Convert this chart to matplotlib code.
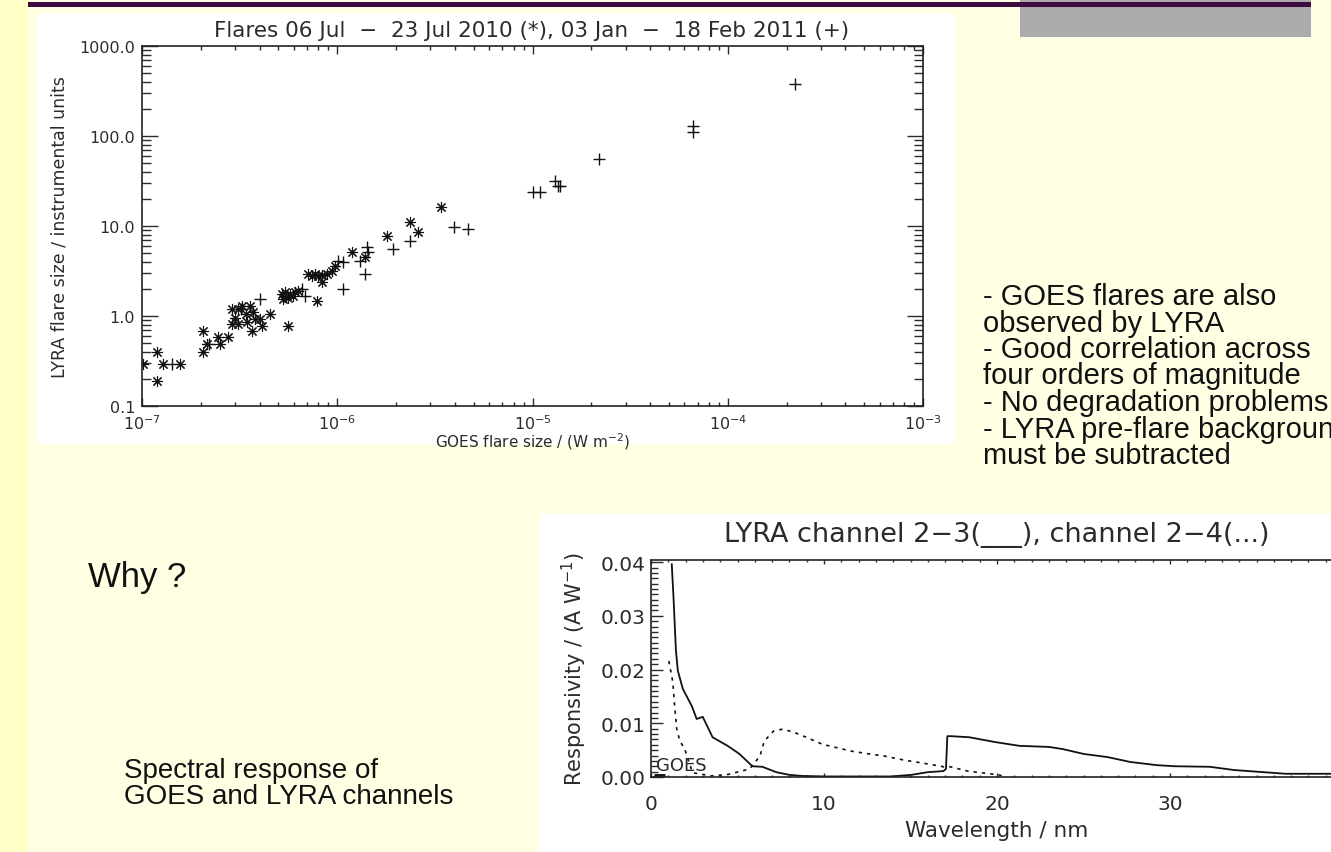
import matplotlib
matplotlib.use("Agg")
import matplotlib.pyplot as plt
from matplotlib.patches import Rectangle
from matplotlib.ticker import FixedLocator, LogLocator, MultipleLocator, NullFormatter

W, H = 1331, 853

# --- top panel: flare sizes, GOES (W m^-2) vs LYRA (instrumental units) ---
goes_2010 = [1.01e-7, 1.19e-7, 1.19e-7, 1.28e-7, 1.57e-7, 2.05e-7, 2.05e-7, 2.15e-7,
             2.45e-7, 2.51e-7, 2.76e-7, 2.89e-7, 2.89e-7, 3.1e-7, 3.1e-7, 3.26e-7,
             3.4e-7, 3.58e-7, 3.66e-7, 3.7e-7, 3.8e-7, 4.12e-7, 4.53e-7, 5.22e-7,
             5.3e-7, 5.41e-7, 5.6e-7, 5.6e-7, 5.74e-7, 5.94e-7, 6.09e-7, 7.1e-7,
             7.71e-7, 7.89e-7, 8.37e-7, 8.37e-7, 8.89e-7, 9.42e-7, 9.77e-7, 1.19e-6,
             1.39e-6, 1.8e-6, 2.37e-6, 2.6e-6, 3.38e-6, 3.0e-7, 3.45e-7, 4.0e-7,
             6.3e-7, 7.4e-7, 8.0e-7]
lyra_2010 = [0.29, 0.40, 0.19, 0.29, 0.29, 0.68, 0.40, 0.49,
             0.58, 0.49, 0.58, 1.2, 0.81, 0.81, 1.2, 1.29,
             1.05, 1.29, 0.68, 1.1, 0.93, 0.77, 1.05, 1.76,
             1.55, 1.85, 0.77, 1.6, 1.76, 1.67, 1.85, 2.93,
             2.93, 1.47, 2.86, 2.39, 2.93, 3.16, 3.59, 5.14,
             4.52, 7.74, 11.1, 8.58, 16.3, 0.95, 0.85, 0.92,
             1.9, 2.8, 2.75]
goes_2011 = [1.43e-7, 2.2e-7, 4.03e-7, 3.2e-7, 6.62e-7, 6.85e-7, 1.01e-6, 1.07e-6,
             1.07e-6, 1.31e-6, 1.42e-6, 1.44e-6, 1.39e-6, 1.94e-6, 2.37e-6, 3.94e-6,
             4.7e-6, 1.0e-5, 1.09e-5, 1.31e-5, 1.35e-5, 1.38e-5, 2.2e-5, 6.6e-5,
             6.6e-5, 2.2e-4]
lyra_2011 = [0.29, 0.49, 1.55, 1.2, 2.0, 1.67, 4.08, 3.98,
             2.0, 4.08, 5.84, 5.14, 2.93, 5.55, 6.81, 9.75,
             9.26, 24.0, 24.0, 31.6, 28.0, 28.0, 55.0, 129.0,
             110.0, 380.0]

top_xticks = [1e-7, 1e-6, 1e-5, 1e-4, 1e-3]
top_xlabels = [r"$10^{-7}$", r"$10^{-6}$", r"$10^{-5}$", r"$10^{-4}$", r"$10^{-3}$"]
top_yticks = [0.1, 1, 10, 100, 1000]
top_ylabels = ["0.1", "1.0", "10.0", "100.0", "1000.0"]

# --- bottom panel: spectral responsivity ---
wl_ch23 = [1.2, 1.3, 1.44, 1.55, 1.84, 2.36, 2.64, 2.99, 3.56, 4.43, 5.11, 5.86, 6.44,
           7.24, 7.99, 8.74, 10.1, 12.0, 13.85, 15.06, 16.0, 16.9, 17.05, 17.13, 17.36,
           18.4, 19.9, 21.3, 23.0, 23.8, 25.0, 26.4, 27.7, 29.25, 30.3, 32.3, 33.7,
           35.4, 36.7, 39.0, 40.0]
resp_ch23 = [0.0396, 0.0335, 0.0236, 0.0198, 0.0164, 0.0132, 0.0108, 0.0112, 0.0074,
             0.0058, 0.0043, 0.0020, 0.0019, 0.0009, 0.0004, 0.0002, 0.0001, 0.0001,
             0.0001, 0.0004, 0.0009, 0.0011, 0.0015, 0.0076, 0.0076, 0.0074, 0.0065,
             0.0058, 0.0056, 0.0052, 0.0043, 0.0037, 0.0028, 0.0022, 0.0020, 0.0019,
             0.0013, 0.0009, 0.0006, 0.0006, 0.0006]
wl_ch24 = [1.03, 1.26, 1.38, 1.49, 1.67, 1.95, 2.4, 3.5, 4.5, 5.7, 6.3, 6.55, 7.1, 7.6,
           8.2, 8.97, 9.9, 11.6, 12.8, 13.5, 14.7, 15.5, 16.6, 16.9, 17.1, 17.3, 18.3,
           20.1, 20.5]
resp_ch24 = [0.0216, 0.0177, 0.0127, 0.0089, 0.0067, 0.0052, 0.0008, 0.0002, 0.0005,
             0.0015, 0.0039, 0.0067, 0.0086, 0.0089, 0.0084, 0.0074, 0.0061, 0.0048,
             0.0042, 0.0039, 0.0031, 0.0027, 0.0021, 0.0019, 0.0019, 0.0019, 0.0011,
             0.0004, 0.0]
wl_goes = [0.2, 0.8]
resp_goes = [0.0002, 0.0002]

bot_xticks = [0, 10, 20, 30, 40]
bot_xlabels = ["0", "10", "20", "30", ""]  # 40 falls past the slide edge
bot_yticks = [0.0, 0.01, 0.02, 0.03, 0.04]
bot_ylabels = ["0.00", "0.01", "0.02", "0.03", "0.04"]

notes = ["- GOES flares are also", "observed by LYRA", "- Good correlation across",
         "four orders of magnitude", "- No degradation problems",
         "- LYRA pre-flare background", "must be subtracted"]

IDL_INK = "#2b2b2b"


def rect(x0, y0, x1, y1):
    # pixel box (top-left origin) -> figure fraction
    return [x0 / W, 1 - y1 / H, (x1 - x0) / W, (y1 - y0) / H]


def box(x0, y0, x1, y1, color):
    r = rect(x0, y0, x1, y1)
    fig.add_artist(Rectangle((r[0], r[1]), r[2], r[3], transform=fig.transFigure,
                             facecolor=color, edgecolor="none", zorder=-5))


fig = plt.figure(figsize=(W / 100, H / 100), dpi=100)
fig.patch.set_facecolor("#ffffe3")

# slide decoration
box(0, 0, 28, H, "#ffffc6")
box(1020, 0, 1311, 38, "#ababab")
box(28, 3, 1311, 8, "#3d0b3f")
box(38, 15, 955, 445, "white")
box(540, 515, W, H, "white")

# ---- top scatter ----
ax1 = fig.add_axes(rect(142, 47, 923, 407))
ax1.set_xscale("log")
ax1.set_yscale("log")
ax1.plot(goes_2010, lyra_2010, linestyle="none", marker=(8, 2, 0), ms=8, mew=0.8,
         color="#111111")
ax1.plot(goes_2011, lyra_2011, linestyle="none", marker="+", ms=8, mew=1.0,
         color="#111111")
ax1.set_xlim(1e-7, 1e-3)
ax1.set_ylim(0.1, 1000)
ax1.xaxis.set_major_locator(FixedLocator(top_xticks))
ax1.set_xticklabels(top_xlabels)
ax1.yaxis.set_major_locator(FixedLocator(top_yticks))
ax1.set_yticklabels(top_ylabels)
for axis in (ax1.xaxis, ax1.yaxis):
    axis.set_minor_locator(LogLocator(base=10, subs=range(2, 10)))
    axis.set_minor_formatter(NullFormatter())
ax1.tick_params(which="both", direction="in", top=True, right=True, colors=IDL_INK,
                labelsize=11.5, width=1.0)
ax1.tick_params(axis="y", which="major", length=11.5, pad=5)
ax1.tick_params(axis="y", which="minor", length=6.5)
ax1.tick_params(axis="x", which="major", length=6, pad=5)
ax1.tick_params(axis="x", which="minor", length=3)
for s in ax1.spines.values():
    s.set_color("#222222")
    s.set_linewidth(1.2)
ax1.set_xlabel(r"GOES flare size / (W m$^{-2}$)", fontsize=11, color=IDL_INK, labelpad=-1)
ax1.set_ylabel("LYRA flare size / instrumental units", fontsize=12.5, color=IDL_INK,
               labelpad=8)
fig.text(532 / W, 1 - 31 / H,
         "Flares 06 Jul  \u2212  23 Jul 2010 (*), 03 Jan  \u2212  18 Feb 2011 (+)",
         ha="center", va="center", fontsize=15.5, color=IDL_INK)

# ---- bottom responsivity ----
ax2 = fig.add_axes(rect(651, 561, 1343, 778))
ax2.plot(wl_ch23, resp_ch23, color="#111111", lw=1.3)
ax2.plot(wl_ch24, resp_ch24, color="#111111", lw=1.2, linestyle=(0, (2, 3)))
ax2.plot(wl_goes, resp_goes, color="#111111", lw=3.5, solid_capstyle="butt")
ax2.set_xlim(0, 40)
ax2.set_ylim(0, 0.0404)
ax2.set_xticks(bot_xticks)
ax2.set_xticklabels(bot_xlabels)
ax2.set_yticks(bot_yticks)
ax2.set_yticklabels(bot_ylabels)
ax2.xaxis.set_minor_locator(MultipleLocator(1))
ax2.yaxis.set_minor_locator(MultipleLocator(0.001))
ax2.tick_params(which="both", direction="in", top=True, right=True, colors=IDL_INK,
                labelsize=14.5, width=1.0)
ax2.tick_params(axis="y", which="major", length=8.5, pad=4)
ax2.tick_params(axis="y", which="minor", length=5)
ax2.tick_params(axis="x", which="major", length=3, pad=12)
ax2.tick_params(axis="x", which="minor", length=1.5)
for s in ax2.spines.values():
    s.set_color("#222222")
    s.set_linewidth(1.2)
ax2.text(0.3, 0.0006, "GOES", fontsize=13, color=IDL_INK, va="bottom", ha="left")
ax2.set_xlabel("Wavelength / nm", fontsize=15.5, color=IDL_INK, labelpad=5)
ax2.set_ylabel(r"Responsivity / (A W$^{-1}$)", fontsize=15, color=IDL_INK, labelpad=8)
fig.text(997 / W, 1 - 535 / H, "LYRA channel 2\u22123(___), channel 2\u22124(...)",
         ha="center", va="center", fontsize=19.5, color=IDL_INK)

# ---- slide text (tight slide line spacing, runs off the right edge) ----
for i, line in enumerate(notes):
    fig.text(983 / W, 1 - (297 + i * 26.5) / H, line, ha="left", va="center",
             fontsize=21, family="Liberation Sans", color="#111111")
fig.text(88 / W, 1 - 578 / H, "Why ?", ha="left", va="center", fontsize=25,
         family="Liberation Sans", color="#111111")
fig.text(124 / W, 1 - 771 / H, "Spectral response of", ha="left", va="center",
         fontsize=20, family="Liberation Sans", color="#111111")
fig.text(124 / W, 1 - 797 / H, "GOES and LYRA channels", ha="left", va="center",
         fontsize=20, family="Liberation Sans", color="#111111")

fig.savefig("out.png", dpi=100)
